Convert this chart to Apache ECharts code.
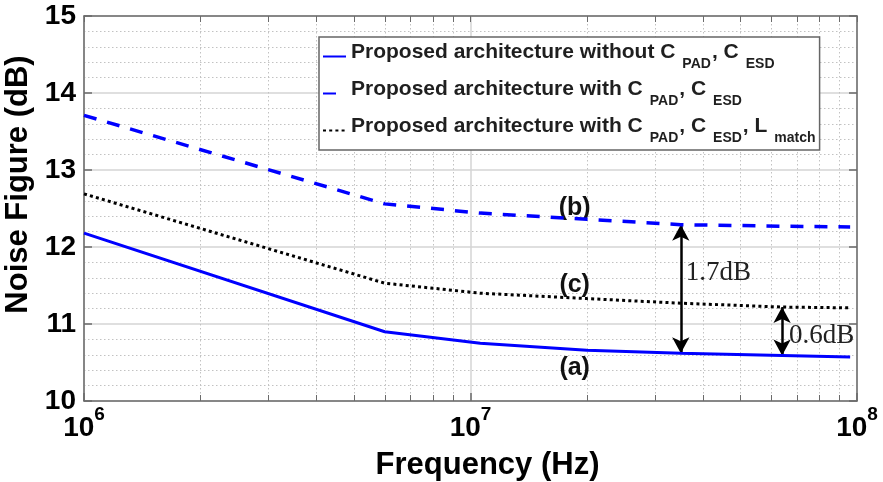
<!DOCTYPE html>
<html>
<head>
<meta charset="utf-8">
<script src="https://cdn.jsdelivr.net/npm/echarts@6/dist/echarts.min.js"></script>
<style>
  html, body { margin: 0; padding: 0; background: #fff; }
  #chart { width: 883px; height: 482px; }
</style>
</head>
<body>
<div id="chart"></div>
<script>
// Frequency sample points (Hz)
const freqHz = [1e6, 6e6, 1.06e7, 2e7, 3.5e7, 6.4e7, 9.6e7];
// Noise figure (dB) of each configuration at those frequencies
const nfWithout = [12.18, 10.90, 10.75, 10.66, 10.62, 10.59, 10.57];   // (a)
const nfWithPads = [13.71, 12.56, 12.44, 12.36, 12.29, 12.27, 12.26];  // (b)
const nfWithMatch = [12.69, 11.53, 11.40, 11.33, 11.27, 11.22, 11.21]; // (c)

const seriesNames = [
  'Proposed architecture without C_PAD, C_ESD',
  'Proposed architecture with C_PAD, C_ESD',
  'Proposed architecture with C_PAD, C_ESD, L_match'
];
const curveTags = ['(a)', '(b)', '(c)'];

// Axis ticks
const xMajorTicks = [1e6, 1e7, 1e8];
const xMinorTicks = [2e6, 3e6, 4e6, 5e6, 6e6, 7e6, 8e6, 9e6,
                     2e7, 3e7, 4e7, 5e7, 6e7, 7e7, 8e7, 9e7];
const yTicks = [10, 11, 12, 13, 14, 15];

// Sample indices where the noise-figure gaps are marked
const gapIdxPads = 4;
const gapIdxMatch = 5;

const pts = arr => freqHz.map((f, i) => [f, arr[i]]);

const SANS = 'Liberation Sans';
const SERIF = 'Liberation Serif';
const AXIS_COLOR = '#6b6b6b';
const MAJOR_GRID = { color: '#d4d4d4', width: 1.5, type: 'solid' };
const MINOR_GRID = { color: '#c2c2c2', width: 1, type: [1.5, 2.5] };

// "C_PAD" style names -> rich text with subscripts
function legendText(name) {
  const parts = name.split(/_([A-Za-z]+)/);
  return parts.map((p, i) => p ? (i % 2 ? '{s|' + p + '}' : '{t|' + p + '}') : '').join('');
}

const gapPads = (nfWithPads[gapIdxPads] - nfWithout[gapIdxPads]).toFixed(1) + 'dB';
const gapMatch = (nfWithMatch[gapIdxMatch] - nfWithout[gapIdxMatch]).toFixed(1) + 'dB';

const tagLabel = { show: true, fontFamily: SANS, fontWeight: 'bold', fontSize: 25, color: '#111' };
const gapLabel = { show: true, position: 'right', fontFamily: SERIF, fontSize: 27, color: '#222' };

const chart = echarts.init(document.getElementById('chart'), null, { renderer: 'canvas' });

chart.setOption({
  animation: false,
  backgroundColor: '#fff',
  grid: { left: 84, right: 26, top: 16, bottom: 81, show: false, outerBoundsMode: 'none', containLabel: false },
  legend: {
    data: seriesNames,
    orient: 'vertical',
    left: 319,
    top: 37,
    padding: [5, 4, 5, 3],
    itemGap: 8,
    itemWidth: 23,
    itemHeight: 14,
    selectedMode: false,
    backgroundColor: '#fff',
    borderColor: '#666',
    borderWidth: 1.5,
    itemStyle: { opacity: 0 },
    formatter: legendText,
    textStyle: {
      rich: {
        t: { fontFamily: SANS, fontWeight: 'bold', fontSize: 21, color: '#1f1f1f', verticalAlign: 'top' },
        s: { fontFamily: SANS, fontWeight: 'bold', fontSize: 14, color: '#1f1f1f', verticalAlign: 'top',
             padding: [15, 1, 0, 7] }
      }
    }
  },
  xAxis: [
    {
      type: 'log', logBase: 10, min: 1e6, max: 1e8, position: 'bottom',
      name: 'Frequency (Hz)', nameLocation: 'middle', nameGap: 49,
      nameTextStyle: { fontFamily: SANS, fontWeight: 'bold', fontSize: 31, color: '#000', padding: [0, 0, 0, 34] },
      axisLine: { show: true, lineStyle: { color: AXIS_COLOR, width: 1.5 } },
      axisTick: { show: true, inside: true, length: 8, lineStyle: { color: AXIS_COLOR, width: 1.5 } },
      axisLabel: {
        margin: 4,
        formatter: v => '{b|10}{s|' + Math.round(Math.log10(v)) + '}',
        rich: {
          b: { fontFamily: SANS, fontWeight: 'bold', fontSize: 28, color: '#000', verticalAlign: 'top', padding: [9, 0, 0, 0] },
          s: { fontFamily: SANS, fontWeight: 'bold', fontSize: 19, color: '#000', verticalAlign: 'top' }
        }
      },
      splitLine: { show: true, lineStyle: MAJOR_GRID }
    },
    {
      type: 'log', logBase: 10, min: 1e6, max: 1e8, position: 'bottom',
      axisLine: { show: false },
      axisLabel: { show: false },
      axisTick: { show: true, inside: true, length: 6, customValues: xMinorTicks,
                  lineStyle: { color: AXIS_COLOR, width: 1 } },
      splitLine: { show: true, lineStyle: MINOR_GRID }
    },
    {
      type: 'log', logBase: 10, min: 1e6, max: 1e8, position: 'top',
      axisLine: { show: true, lineStyle: { color: AXIS_COLOR, width: 1.5 } },
      axisLabel: { show: false },
      axisTick: { show: true, inside: true, length: 6, customValues: xMajorTicks.concat(xMinorTicks),
                  lineStyle: { color: AXIS_COLOR, width: 1 } },
      splitLine: { show: false }
    }
  ],
  yAxis: [
    {
      type: 'value', min: yTicks[0], max: yTicks[yTicks.length - 1], interval: 1, position: 'left',
      name: 'Noise Figure (dB)', nameLocation: 'middle', nameGap: 45,
      nameTextStyle: { fontFamily: SANS, fontWeight: 'bold', fontSize: 31, color: '#000', padding: [0, 0, 0, 48] },
      axisLine: { show: true, lineStyle: { color: AXIS_COLOR, width: 1.5 } },
      axisTick: { show: true, inside: true, length: 8, lineStyle: { color: AXIS_COLOR, width: 1.5 } },
      axisLabel: { margin: 8, fontFamily: SANS, fontWeight: 'bold', fontSize: 28, color: '#000' },
      splitLine: { show: true, lineStyle: MAJOR_GRID },
      minorTick: { show: false, splitNumber: 5 },
      minorSplitLine: { show: true, lineStyle: MINOR_GRID }
    },
    {
      type: 'value', min: yTicks[0], max: yTicks[yTicks.length - 1], interval: 1, position: 'right',
      axisLine: { show: true, lineStyle: { color: AXIS_COLOR, width: 1.5 } },
      axisTick: { show: true, inside: true, length: 8, lineStyle: { color: AXIS_COLOR, width: 1.5 } },
      axisLabel: { show: false },
      splitLine: { show: false }
    }
  ],
  series: [
    {
      name: seriesNames[0], type: 'line', xAxisIndex: 0, yAxisIndex: 0,
      data: pts(nfWithout), symbol: 'none', z: 5,
      lineStyle: { color: '#0000ff', width: 3, type: 'solid' },
      itemStyle: { color: '#0000ff' },
      emphasis: { disabled: true },
      markLine: {
        silent: true,
        symbol: ['arrow', 'arrow'],
        symbolSize: [13, 16],
        lineStyle: { color: '#000', width: 2.5, type: 'solid' },
        itemStyle: { color: '#000' },
        label: { show: false },
        emphasis: { disabled: true },
        data: [
          [{ coord: [freqHz[gapIdxPads], nfWithout[gapIdxPads]] }, { coord: [freqHz[gapIdxPads], nfWithPads[gapIdxPads]] }],
          [{ coord: [freqHz[gapIdxMatch], nfWithout[gapIdxMatch]] }, { coord: [freqHz[gapIdxMatch], nfWithMatch[gapIdxMatch]] }]
        ]
      },
      markPoint: {
        silent: true, symbol: 'circle', symbolSize: 0,
        data: [
          { coord: [1.86e7, 10.43], label: Object.assign({ formatter: curveTags[0] }, tagLabel) },
          { coord: [1.86e7, 12.51], label: Object.assign({ formatter: curveTags[1] }, tagLabel) },
          { coord: [1.86e7, 11.51], label: Object.assign({ formatter: curveTags[2] }, tagLabel) },
          { coord: [freqHz[gapIdxPads], 11.66], label: Object.assign({ formatter: gapPads, distance: 5 }, gapLabel) },
          { coord: [freqHz[gapIdxMatch], 10.85], label: Object.assign({ formatter: gapMatch, distance: 7 }, gapLabel) }
        ]
      }
    },
    {
      name: seriesNames[1], type: 'line', xAxisIndex: 0, yAxisIndex: 0,
      data: pts(nfWithPads), symbol: 'none', z: 5,
      lineStyle: { color: '#0000ff', width: 3.5, type: [13, 11] },
      itemStyle: { color: '#0000ff' },
      emphasis: { disabled: true }
    },
    {
      name: seriesNames[2], type: 'line', xAxisIndex: 0, yAxisIndex: 0,
      data: pts(nfWithMatch), symbol: 'none', z: 5,
      lineStyle: { color: '#000', width: 3, type: [3, 3.2] },
      itemStyle: { color: '#000' },
      emphasis: { disabled: true }
    }
  ]
});
</script>
</body>
</html>
